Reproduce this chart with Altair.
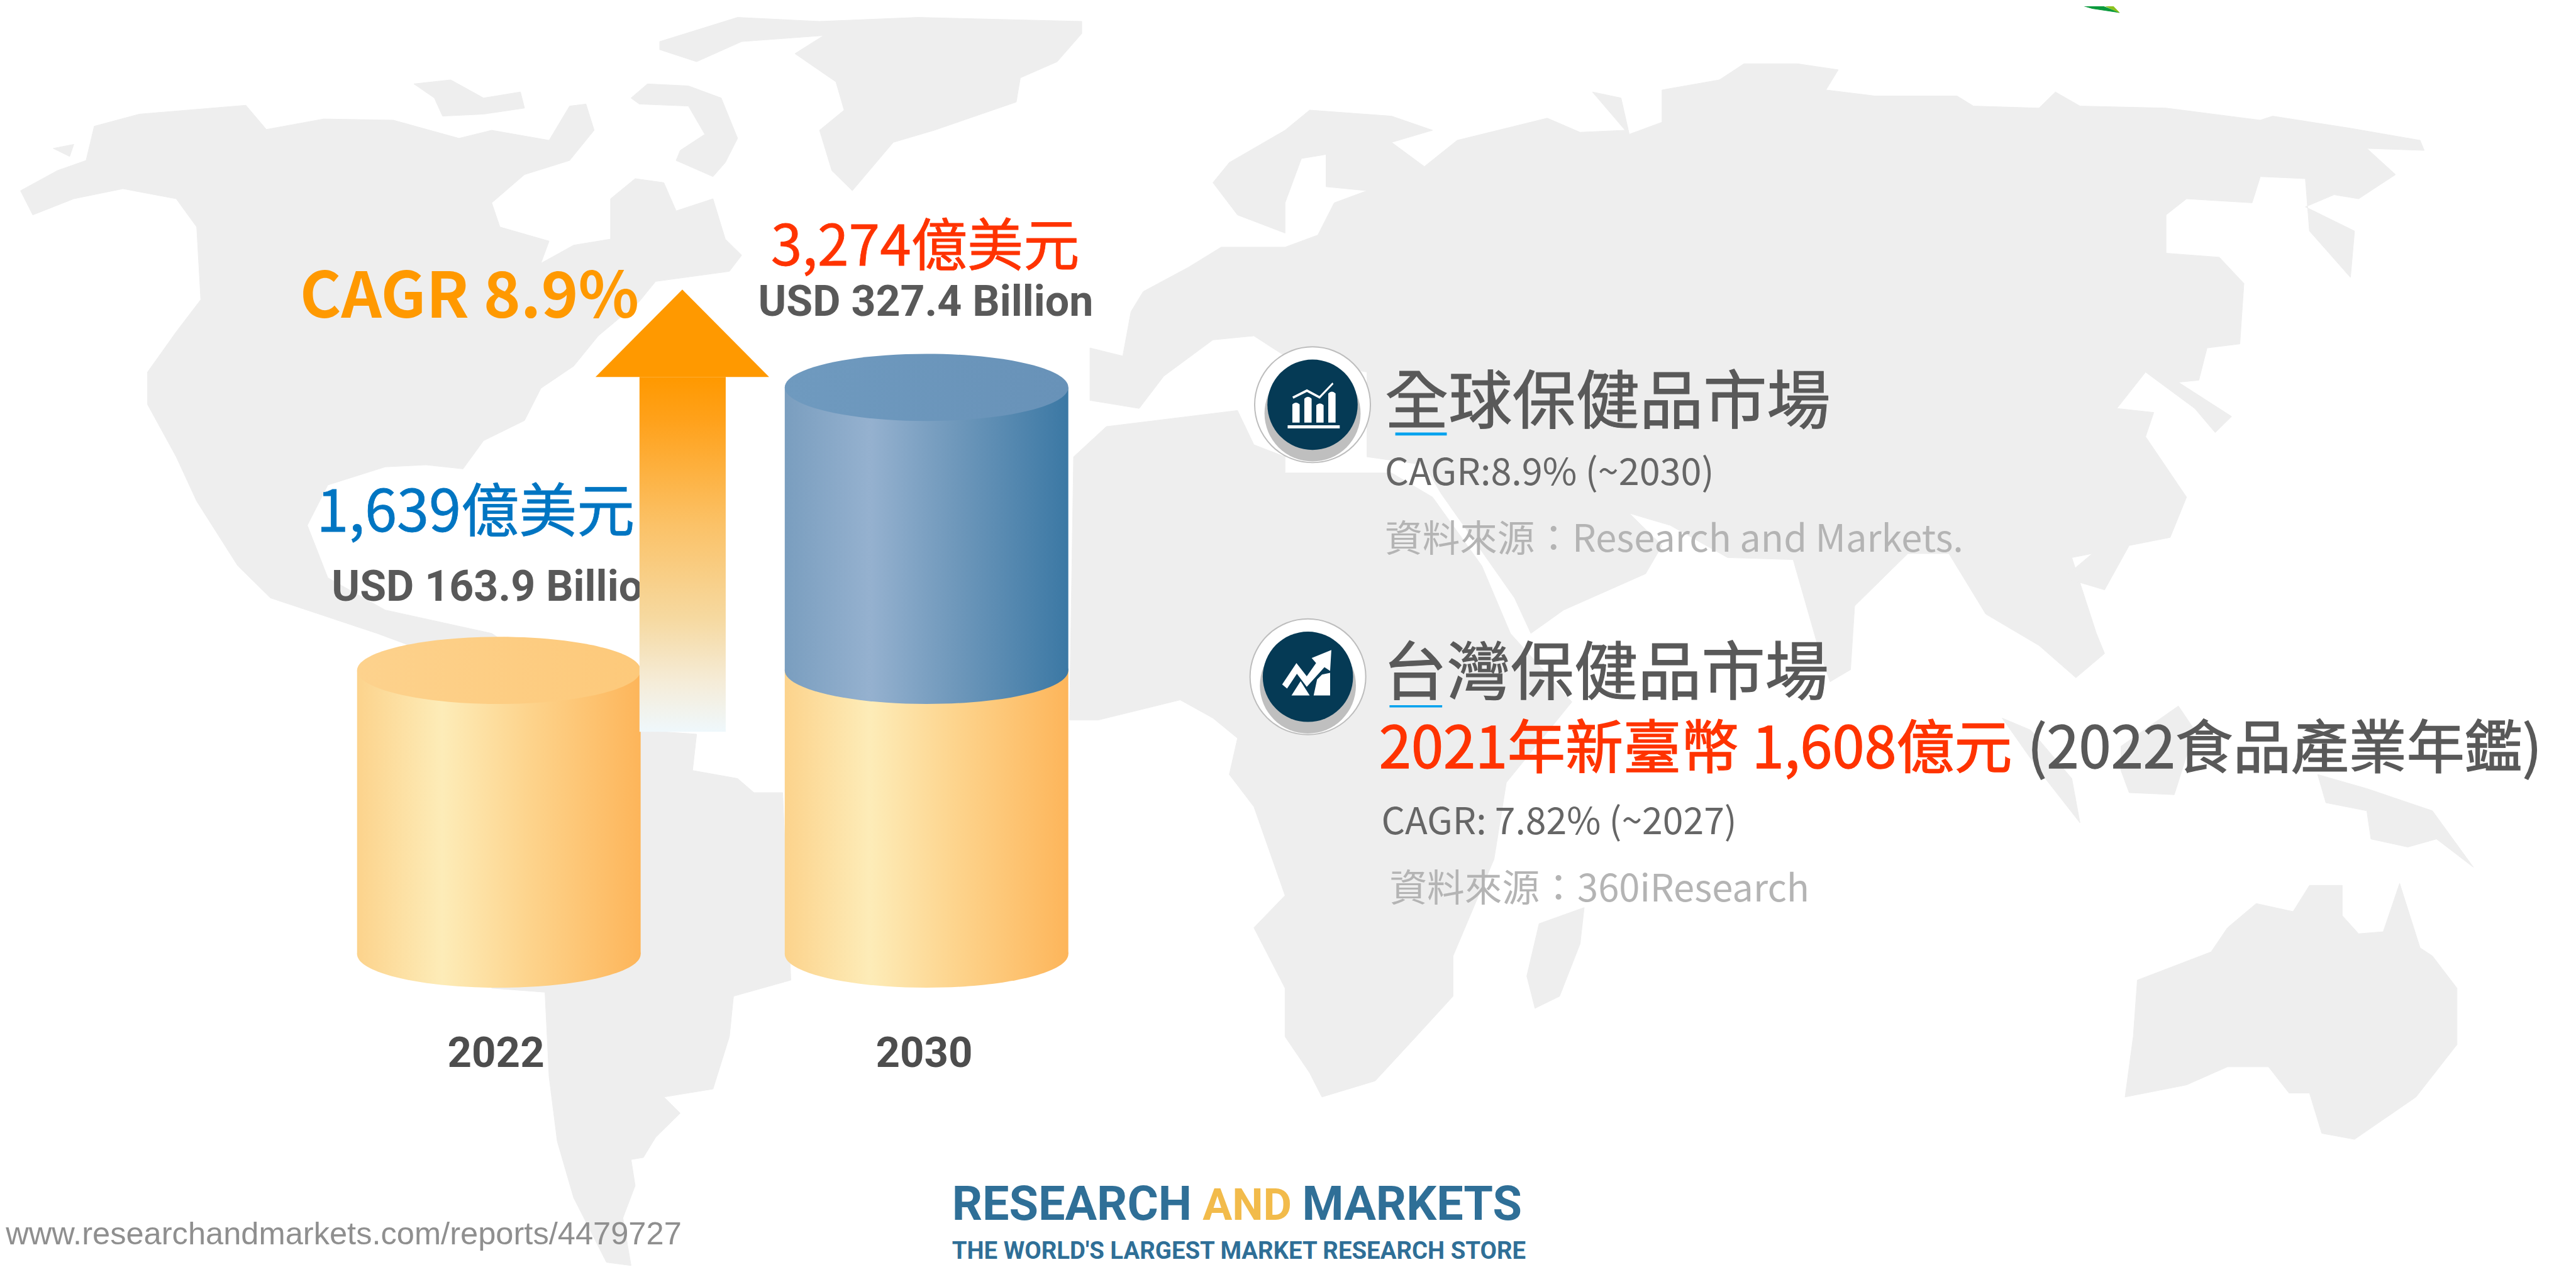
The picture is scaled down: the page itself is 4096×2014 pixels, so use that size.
import altair as alt

# ---------- data ----------
YEARS = ["2022", "2030"]
MARKET_USD_BN = [163.9, 327.4]

# Land outlines in quadrant-crop units (each quadrant 1568 x 1568)
def Q(q, pts):
    dx = 1568 if q in (2, 4) else 0
    dy = 1568 if q in (3, 4) else 0
    return [[(x + dx) * 4441 / 3136, (y + dy) * 2184 / 3136] for x, y in pts]

AMERICAS = (
    Q(1, [(25,470),(70,420),(105,395),(115,310),(170,280),(300,258),(325,318),(395,292),(480,295),(560,340),
          (600,320),(670,345),(695,260),(715,255),(725,320),(695,395),(640,430),(600,500),(610,560),(670,595),
          (660,650),(700,605),(745,590),(745,490),(775,440),(810,450),(825,520),(870,490),(885,590),(905,630),
          (890,670),(800,695),(780,745),(730,830),(700,905),(660,960),(640,1040),(590,1090),(565,1160),
          (520,1150),(470,1155),(400,1200),(375,1300),(400,1430),(470,1510),(600,1568)])
    + Q(3, [(780,240),(850,250),(845,340),(900,360),(920,395),(955,395),(965,860),(895,900),(890,1000),(870,1130),
            (810,1150),(830,1190),(800,1250),(785,1300),(770,1305),(775,1370),(760,1450),(770,1568),(740,1560),
            (700,1400),(680,1260),(670,1100),(665,890),(600,880),(500,30),(460,0)])
    + Q(1, [(460,1568),(330,1480),(290,1400),(240,1240),(215,1130),(180,1000),(180,920),(215,820),(245,740),
            (240,560),(215,490),(150,465),(90,490),(40,530)])
)
ALASKA_ISLE = Q(1, [(65,365),(90,355),(85,385)])
ARCTIC_ISLE = Q(1, [(505,205),(550,195),(590,240),(635,225),(640,265),(590,280),(540,285),(530,240)])
BAFFIN = Q(1, [(770,240),(790,205),(840,210),(880,240),(900,340),(885,400),(870,435),(825,395),(830,370),
               (860,330),(840,260),(780,255)])
GREENLAND = Q(1, [(805,100),(900,40),(1000,50),(1120,40),(1320,50),(1320,80),(1290,150),(1245,190),(1240,250),
                  (1140,320),(1090,350),(1040,470),(1015,420),(1000,320),(1030,270),(1020,200),(970,130),
                  (1005,85),(905,100),(850,150),(805,120)])
EURASIA = (
    Q(1, [(1330,860),(1370,880),(1380,770),(1395,720),(1450,660),(1490,610),(1568,610)])
    + Q(2, [(40,580),(60,500),(100,470),(50,460),(50,380),(20,390),(0,500)])
    + Q(1, [(1568,575),(1510,530),(1480,450),(1500,400),(1568,320)])
    + Q(2, [(30,270),(130,285),(180,320),(130,350),(170,410),(210,345),(320,290),(360,325),(415,320),(375,225),
            (410,240),(420,330),(460,300),(460,220),(530,195),(560,155),(625,155),(675,170),(660,220),(720,235),
            (820,235),(840,260),(920,265),(940,225),(970,260),(1075,265),(1190,295),(1205,285),(1300,315),
            (1385,345),(1390,370),(1320,365),(1355,430),(1310,490),(1280,480),(1245,510),(1305,570),(1300,685),
            (1250,570),(1245,440),(1190,435),(1180,500),(1100,490),(1075,530),(1075,625),(1140,635),(1170,700),
            (1165,850),(1125,860),(1115,940),(1090,945),(1155,1030),(1135,1070),(1110,1010),(1050,920),(1015,1010),
            (1060,1020),(1050,1080),(1100,1230),(1080,1330),(1030,1350),(1000,1460),(950,1430),(985,1370),
            (960,1380),(990,1568)])
    + Q(4, [(1000,50),(965,110),(920,30),(895,0)])
    + Q(2, [(855,1520),(810,1370),(760,1370),(695,1500)])
    + Q(4, [(690,90),(665,120),(650,30)])
    + Q(2, [(620,1385),(540,1380),(470,1300),(420,1270),(460,1350),(440,1420),(340,1510),(300,1568),(280,1480),
            (190,1220),(170,1150),(100,1130),(100,920),(0,880)])
    + Q(1, [(1530,830),(1480,840),(1420,930),(1390,1010),(1330,990)])
)
AFRICA = (
    Q(1, [(1310,1130),(1350,1055),(1510,1015),(1530,1100),(1568,1130)])
    + Q(2, [(0,1170),(130,1170),(180,1230),(240,1400),(275,1568)])
    + Q(4, [(350,170),(270,370),(255,560),(205,800),(205,900),(160,1000),(110,1110),(45,1150),(30,1090),(0,1000)])
    + Q(3, [(1568,880),(1530,730),(1568,650),(1530,430),(1500,350),(1510,260),(1480,210),(1440,165),(1340,215),(1305,215)])
)
MADAGASCAR = Q(4, [(310,720),(365,680),(360,770),(335,900),(305,930),(295,850)])
SUMATRA = Q(4, [(875,210),(910,240),(960,360),(970,470),(920,340)])
BORNEO = Q(4, [(1020,280),(1090,180),(1110,240),(1085,400),(1030,395),(1020,340)])
NEW_GUINEA = Q(4, [(1260,350),(1320,385),(1400,440),(1450,580),(1405,510),(1370,530),(1325,510),(1320,440),(1270,420)])
AUSTRALIA = Q(4, [(1040,860),(1130,790),(1150,730),(1185,670),(1230,690),(1250,625),(1290,625),(1290,700),(1310,745),
                  (1340,740),(1360,620),(1385,780),(1400,800),(1430,880),(1430,1020),(1380,1150),(1305,1255),
                  (1265,1240),(1250,1140),(1225,1140),(1200,1075),(1150,1075),(1100,1120),(1025,1150),(1035,1000)])
LANDS = [AMERICAS, ALASKA_ISLE, ARCTIC_ISLE, BAFFIN, GREENLAND, EURASIA, AFRICA, MADAGASCAR, SUMATRA, BORNEO,
         NEW_GUINEA, AUSTRALIA]
LEAF_DARK = Q(2, [(955,0),(985,18),(1018,28),(1000,14),(985,0)])
LEAF_LIGHT = Q(2, [(988,0),(1003,14),(1018,28),(1007,5)])

# ---------- frame ----------
K = 0.922
OFF = 8 / K
W, H = 4088, 2006
REF_R, REF_B = OFF + W / K, OFF + H / K
PX = alt.Scale(domain=[OFF, REF_R], range=[0, W], nice=False, zero=False)
PY = alt.Scale(domain=[OFF, REF_B], range=[0, H], nice=False, zero=False)
CJK = "Noto Sans CJK TC"
CONDENSED = "Roboto"
SANS = "Liberation Sans"


def fx(x):
    return (x - OFF) * K


def val(py):
    return (1646 - py) / 2.99


X_YEAR = alt.Scale(type="point", domain=YEARS, range=[fx(862), fx(1601)], padding=0)
Y_VAL = alt.Scale(domain=[val(REF_B), val(OFF)], range=[H, 0], nice=False, zero=False)
CYL_W = 490 * K
ELLIPSE = "M-1,0A1,0.2367 0 1,1 1,0A1,0.2367 0 1,1 -1,0Z"


def hgrad(*stops):
    return alt.Gradient(gradient="linear", x1=0, x2=1, y1=0, y2=0,
                        stops=[alt.GradientStop(offset=o, color=c) for o, c in stops])


ORANGE = hgrad((0, "#fcd38c"), (0.3, "#fdecb8"), (0.6, "#fdd48d"), (1, "#fdb55a"))
BLUE = hgrad((0, "#7a9ebf"), (0.3, "#95b1cf"), (0.6, "#6f98bb"), (1, "#3b78a4"))
ORANGE_TOP = hgrad((0, "#fdd28d"), (1, "#fdc97a"))
BLUE_TOP = hgrad((0, "#6f9abf"), (1, "#6892b8"))


def geo(polys, fill):
    feats = [{"type": "Feature", "properties": {},
              "geometry": {"type": "Polygon", "coordinates": [p + [p[0]]]}} for p in polys]
    return alt.Chart(alt.Data(values=feats)).mark_geoshape(fill=fill, stroke=fill, strokeWidth=1).project(
        type="identity", scale=K, translate=[-8, -8])


def cyl_bar(rows, fill):
    return alt.Chart(alt.Data(values=rows)).mark_bar(size=CYL_W, fill=fill).encode(
        x=alt.X("year:N", scale=X_YEAR, axis=None),
        y=alt.Y("lo:Q", scale=Y_VAL, axis=None),
        y2="hi:Q",
    )


def cyl_cap(rows, fill):
    return alt.Chart(alt.Data(values=rows)).mark_point(
        shape=ELLIPSE, size=CYL_W ** 2, filled=True, fill=fill, opacity=1, strokeWidth=0).encode(
        x=alt.X("year:N", scale=X_YEAR, axis=None),
        y=alt.Y("v:Q", scale=Y_VAL, axis=None),
    )


def label(text, x, y, size, color, weight="normal", font=CJK, align="left", heavy=0):
    kw = {"stroke": color, "strokeWidth": heavy} if heavy else {}
    return alt.Chart(alt.Data(values=[{"t": text}])).mark_text(
        align=align, baseline="alphabetic", font=font, fontSize=size * K, fontWeight=weight,
        color=color, **kw).encode(
        text="t:N",
        x=alt.X(datum=x, type="quantitative", scale=PX, axis=None),
        y=alt.Y(datum=y, type="quantitative", scale=PY, axis=None),
    )


def box(x0, x1, y0, y1, fill):
    return alt.Chart(alt.Data(values=[{"a": 1}])).mark_rect(fill=fill).encode(
        x=alt.X(datum=x0, type="quantitative", scale=PX, axis=None),
        x2=alt.X2(datum=x1),
        y=alt.Y(datum=y0, type="quantitative", scale=PY, axis=None),
        y2=alt.Y2(datum=y1),
    )


def sym(shape, x, y, diam, fill, stroke=None, sw=0, opacity=1):
    kw = {"stroke": stroke, "strokeWidth": sw} if stroke else {"strokeWidth": 0}
    return alt.Chart(alt.Data(values=[{"a": 1}])).mark_point(
        shape=shape, size=(diam * K) ** 2, filled=True, fill=fill, opacity=opacity, **kw).encode(
        x=alt.X(datum=x, type="quantitative", scale=PX, axis=None),
        y=alt.Y(datum=y, type="quantitative", scale=PY, axis=None),
    )


ICON_BARS = ("M-1,0.72H1V0.84H-1Z"
             "M-0.82,0.62V-0.08Q-0.68,-0.22 -0.54,-0.08V0.62Z"
             "M-0.36,0.62V-0.3Q-0.22,-0.44 -0.08,-0.3V0.62Z"
             "M0.1,0.62V-0.05Q0.24,-0.19 0.38,-0.05V0.62Z"
             "M0.56,0.62V-0.5Q0.7,-0.64 0.84,-0.5V0.62Z"
             "M-0.82,-0.38L-0.26,-0.66L0.22,-0.4L0.72,-0.92L0.76,-0.86L0.23,-0.3L-0.26,-0.56L-0.78,-0.3Z")
ICON_TREND = ("M-1,0.45L-0.42,-0.42L0,0.12L0.38,-0.42L0.2,-0.62L1,-0.95L0.95,-0.1L0.72,-0.25"
              "L0,0.55L-0.4,0.02L-0.8,0.62Z"
              "M-0.62,0.9L-0.25,0.32L0.12,0.9Z"
              "M0.28,0.9L0.42,0.25L0.62,0.05L0.95,-0.02V0.9Z")
ARROW_HEAD = "M0,-0.503L1,0.503L-1,0.503Z"
ARROW_FILL = alt.Gradient(gradient="linear", x1=0, x2=0, y1=0, y2=1, stops=[
    alt.GradientStop(offset=0, color="#ff9900"),
    alt.GradientStop(offset=0.12, color="#ffa11a"),
    alt.GradientStop(offset=0.42, color="#fbc268"),
    alt.GradientStop(offset=0.68, color="#f6d9a0"),
    alt.GradientStop(offset=0.86, color="#f5ecd8"),
    alt.GradientStop(offset=1, color="#eff8fc"),
])

lo_hi = [{"year": YEARS[0], "lo": 0, "hi": MARKET_USD_BN[0]}, {"year": YEARS[1], "lo": 0, "hi": MARKET_USD_BN[0]}]
growth = [{"year": YEARS[1], "lo": MARKET_USD_BN[0], "hi": MARKET_USD_BN[1]}]
GREY = "#595959"
PALE = "#b4b4b4"
LOGO_BLUE = "#2f6f97"

layers = [
    geo(LANDS, "#eeeeee"),
    geo([LEAF_DARK], "#0a9a3c"),
    geo([LEAF_LIGHT], "#8cc21f"),
    # cylinders
    cyl_cap([{"year": y, "v": 0} for y in YEARS], ORANGE),
    cyl_bar(lo_hi, ORANGE),
    cyl_cap([{"year": YEARS[0], "v": MARKET_USD_BN[0]}], ORANGE_TOP),
    cyl_cap([{"year": YEARS[1], "v": MARKET_USD_BN[0]}], BLUE),
    cyl_bar(growth, BLUE),
    cyl_cap([{"year": YEARS[1], "v": MARKET_USD_BN[1]}], BLUE_TOP),
    # left labels
    label("3,274億美元", 1332, 456, 97, "#ff3300", heavy=0.8),
    label("USD 327.4 Billion", 1310, 543, 74, GREY, "bold", CONDENSED),
    label("1,639億美元", 547, 916, 100, "#0075c2", heavy=0.8),
    label("USD 163.9 Billion", 573, 1036, 74, GREY, "bold", CONDENSED),
    label("2022", 857, 1841, 73, "#4d4d4d", "bold", CONDENSED, "center"),
    label("2030", 1597, 1841, 73, "#4d4d4d", "bold", CONDENSED, "center"),
    # growth arrow
    box(1105, 1254, 649, 1262, ARROW_FILL),
    sym(ARROW_HEAD, 1179, 573.5, 300, "#ff9900"),
    label("CAGR 8.9%", 518, 547, 109, "#ff9900", "bold"),
    # right block
    sym("circle", 2268, 697, 200, "#ffffff", "#bdbdbd", 2),
    sym("circle", 2268, 712, 166, "#8a8a8a", opacity=0.55),
    sym("circle", 2268, 697, 156, "#053a55"),
    sym(ICON_BARS, 2270, 700, 90, "#ffffff"),
    label("全球保健品市場", 2393, 729, 110, GREY, heavy=1.2),
    box(2411, 2500, 745, 750, "#00a2ee"),
    label("CAGR:8.9% (~2030)", 2393, 836, 64.5, "#666666"),
    label("資料來源：Research and Markets.", 2393, 951, 64.8, PALE),
    sym("circle", 2260, 1167, 200, "#ffffff", "#bdbdbd", 2),
    sym("circle", 2260, 1182, 166, "#8a8a8a", opacity=0.55),
    sym("circle", 2260, 1167, 156, "#053a55"),
    sym(ICON_TREND, 2258, 1161, 85, "#ffffff"),
    label("台灣保健品市場", 2390, 1198, 110, GREY, heavy=1.2),
    box(2401, 2492, 1216, 1220, "#00a2ee"),
    label("2021年新臺幣 1,608億元", 2383, 1325, 100, "#ff3300", heavy=1.4),
    label("(2022食品產業年鑑)", 3503, 1325, 100, GREY, heavy=1.4),
    label("CAGR: 7.82% (~2027)", 2387, 1439, 64, "#666666"),
    label("資料來源：360iResearch", 2401, 1555, 64.9, PALE),
    # footer
    label("www.researchandmarkets.com/reports/4479727", 10, 2147, 55, "#8f8f8f", "normal", SANS),
    label("RESEARCH", 1645, 2105, 82, LOGO_BLUE, "bold", CONDENSED),
    label("AND", 2078, 2105, 76, "#f2bb4b", "bold", CONDENSED),
    label("MARKETS", 2250, 2105, 82, LOGO_BLUE, "bold", CONDENSED),
    label("THE WORLD'S LARGEST MARKET RESEARCH STORE", 1645, 2172, 41.7, LOGO_BLUE, "bold", CONDENSED),
]

chart = (
    alt.layer(*layers)
    .resolve_scale(x="independent", y="independent")
    .properties(width=W, height=H, padding=0, autosize=alt.AutoSizeParams(type="none"), background="#ffffff")
    .configure_view(stroke=None)
)
chart.save("out.html", embed_options={"renderer": "svg", "actions": False})
